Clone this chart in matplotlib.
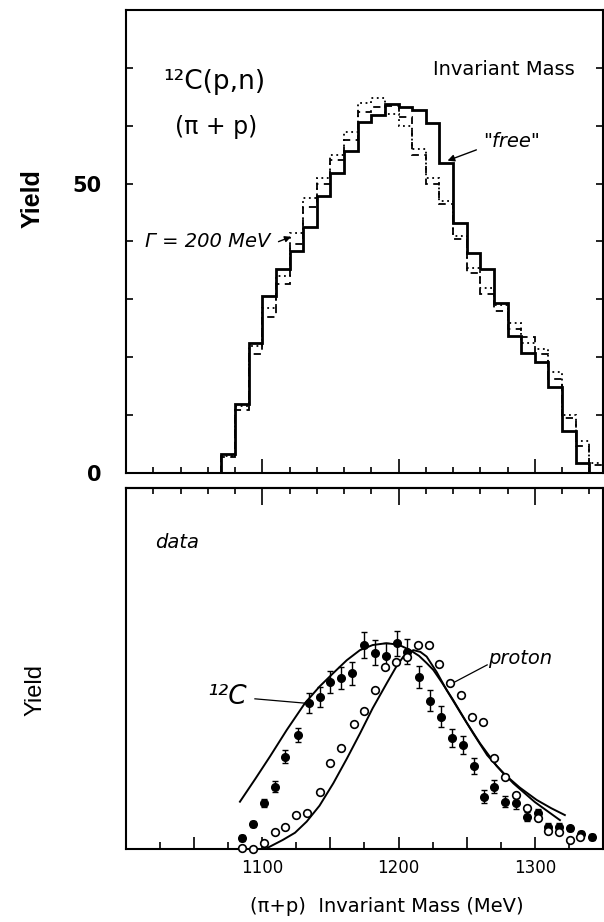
import numpy as np
import matplotlib
matplotlib.use("Agg")
import matplotlib.pyplot as plt
from matplotlib.ticker import MultipleLocator, FuncFormatter

# --- top panel: simulated histograms, 10 MeV bins starting at 1070 MeV ---
bin_start = 1070
bin_width = 10
free_counts = [3.3, 11.9, 22.4, 30.5, 35.2, 38.3, 42.5, 47.8, 51.8, 55.6,
               60.7, 61.9, 63.8, 63.3, 62.8, 60.5, 53.6, 43.2, 38.0, 35.2,
               29.3, 23.6, 20.8, 19.1, 14.8, 7.3, 1.8]
gamma200_counts = [2.8, 10.8, 20.5, 27.0, 32.6, 39.5, 46.0, 50.0, 54.0, 57.6,
                   62.4, 63.3, 63.4, 61.5, 55.0, 50.0, 46.4, 40.5, 34.5, 31.0,
                   28.0, 24.8, 23.5, 20.5, 16.2, 9.5, 4.7, 1.3]
dotted_counts = [3.0, 11.5, 22.0, 28.5, 34.0, 41.5, 47.5, 51.0, 55.0, 59.0,
                 64.0, 64.8, 62.0, 60.0, 56.0, 51.0, 47.0, 41.0, 35.5, 32.0,
                 29.0, 26.0, 22.5, 21.5, 17.5, 10.0, 5.5, 1.8]

# --- bottom panel: data points (arbitrary yield units) ---
c12_mass = [1085, 1093, 1101, 1109, 1117, 1126, 1134, 1142, 1150, 1158,
            1166, 1175, 1183, 1191, 1199, 1206, 1215, 1223, 1231, 1239,
            1247, 1255, 1263, 1270, 1278, 1286, 1294, 1302, 1310, 1318,
            1326, 1334, 1342]
c12_yield = [3.0, 6.9, 12.7, 17.3, 25.6, 31.6, 40.5, 42.2, 46.3, 47.3,
             48.7, 56.5, 54.4, 53.5, 57.0, 54.7, 47.7, 41.1, 36.7, 30.7,
             28.8, 23.0, 14.5, 17.3, 13.1, 12.7, 9.0, 9.9, 6.2, 6.2,
             5.7, 4.2, 3.4]
c12_err = [0.8, 0.8, 1.2, 1.5, 1.8, 2.0, 2.8, 2.8, 3.0, 3.0,
           3.2, 3.5, 3.5, 3.5, 3.5, 3.5, 3.0, 3.0, 2.8, 2.5,
           2.5, 2.2, 1.8, 1.8, 1.5, 1.5, 1.2, 1.2, 1.0, 1.0,
           0.8, 0.8, 0.8]

p_mass = [1085, 1093, 1101, 1109, 1117, 1125, 1133, 1142, 1150, 1158,
          1167, 1175, 1183, 1190, 1198, 1206, 1214, 1222, 1230, 1238,
          1246, 1254, 1262, 1270, 1278, 1286, 1294, 1302, 1310, 1318,
          1326, 1333]
p_yield = [0.2, 0.0, 1.6, 4.8, 6.2, 9.4, 9.9, 15.9, 23.7, 27.9,
           34.5, 38.2, 44.0, 50.5, 51.9, 53.1, 56.5, 56.5, 51.2, 45.9,
           42.7, 36.7, 35.3, 25.1, 19.9, 15.0, 11.3, 8.7, 5.1, 4.6,
           2.5, 3.2]

# --- bottom panel: model curves ---
c12_curve_mass = [1083.6, 1095, 1105.6, 1118, 1131.3, 1142, 1152, 1162, 1171.7, 1181,
                  1191, 1200, 1208.4, 1215, 1220.6, 1225.5, 1232, 1240, 1250, 1259.7,
                  1272, 1284.2, 1300, 1318.4]
c12_curve_yield = [13.1, 19.5, 25.6, 33.0, 40.4, 45.0, 48.7, 52.3, 55.1, 56.5,
                   57.0, 56.6, 55.1, 53.5, 51.5, 49.6, 46.0, 41.3, 35.0, 29.3,
                   23.0, 18.2, 13.0, 8.0]
p_curve_mass = [1103.2, 1115, 1124, 1132.6, 1142, 1152.1, 1162, 1171.7, 1181, 1191.3,
                1198, 1203.5, 1210.8, 1216, 1220.6, 1228, 1235.3, 1245, 1254.8, 1265,
                1276.8, 1289, 1301.3, 1312, 1322]
p_curve_yield = [0.2, 2.5, 4.5, 7.6, 12.0, 18.2, 25.0, 32.0, 39.0, 45.9,
                 50.3, 53.3, 55.1, 54.6, 53.3, 49.0, 44.0, 38.0, 32.0, 26.0,
                 21.0, 17.0, 13.6, 11.3, 9.4]

x_labels = {1100: "1100", 1200: "1200", 1300: "1300"}

fig = plt.figure(figsize=(6.04, 9.22), dpi=100)
ax1 = fig.add_axes([126 / 604, 1 - 473 / 922, 477 / 604, 463 / 922])
ax2 = fig.add_axes([126 / 604, 1 - 849 / 922, 477 / 604, 361 / 922])

for ax in (ax1, ax2):
    for sp in ax.spines.values():
        sp.set_linewidth(1.5)
    ax.set_xlim(1000, 1350)

# ---------- top panel ----------
edges_free = bin_start + bin_width * np.arange(len(free_counts) + 1)
edges_g = bin_start + bin_width * np.arange(len(gamma200_counts) + 1)
edges_d = bin_start + bin_width * np.arange(len(dotted_counts) + 1)
ax1.stairs(dotted_counts, edges_d, color="black", lw=1.3, ls=(0, (1, 2)))
ax1.stairs(gamma200_counts, edges_g, color="black", lw=1.3, ls=(0, (4, 3)))
ax1.stairs(free_counts, edges_free, color="black", lw=2.0)

ax1.set_ylim(0, 80)
ax1.xaxis.set_major_locator(MultipleLocator(100))
ax1.xaxis.set_minor_locator(MultipleLocator(20))
ax1.tick_params(axis="x", which="major", direction="in", length=10, width=1.2,
                labelbottom=False)
ax1.tick_params(axis="x", which="minor", direction="in", length=4, width=1.2)
ax1.set_yticks(np.arange(0, 81, 10))
ax1.set_yticklabels(["0", "", "", "", "", "50", "", "", ""])
ax1.tick_params(axis="y", direction="in", length=5, width=1.2, left=True, right=True,
                pad=18, labelsize=15)
for lab in ax1.get_yticklabels():
    lab.set_fontweight("bold")

ax1.text(1027, 67.5, "¹²C(p,n)", fontsize=19, va="center", ha="left")
ax1.text(1036, 59.8, "(π + p)", fontsize=17, va="center", ha="left")
ax1.text(1329, 69.7, "Invariant Mass", fontsize=14, va="center", ha="right")
ax1.text(1262, 57.2, '"free"', fontsize=14, style="italic", va="center", ha="left")
ax1.annotate("", xy=(1234, 53.8), xytext=(1259, 56.0),
             arrowprops=dict(arrowstyle="-|>", color="black", lw=1.0, mutation_scale=10))
ax1.text(1014, 40.0, "Γ = 200 MeV", fontsize=14, style="italic", va="center", ha="left")
ax1.annotate("", xy=(1123, 41.0), xytext=(1110, 39.8),
             arrowprops=dict(arrowstyle="-|>", color="black", lw=1.0, mutation_scale=9))

# ---------- bottom panel ----------
ax2.set_ylim(0, 100)
ax2.plot(c12_curve_mass, c12_curve_yield, color="black", lw=1.4)
ax2.plot(p_curve_mass, p_curve_yield, color="black", lw=1.4)
ax2.errorbar(c12_mass, c12_yield, yerr=c12_err, fmt="o", ms=5.5, mfc="black",
             mec="black", ecolor="black", elinewidth=1.0, capsize=2.5, zorder=3)
ax2.plot(p_mass, p_yield, "o", ms=5.5, mfc="white", mec="black", mew=1.2, zorder=4,
         clip_on=False)

ax2.set_yticks([])
ax2.xaxis.set_major_locator(MultipleLocator(50))
ax2.xaxis.set_minor_locator(MultipleLocator(25))
ax2.xaxis.set_major_formatter(FuncFormatter(lambda v, p: x_labels.get(int(round(v)), "")))
ax2.tick_params(axis="x", which="major", direction="in", length=9, width=1.2,
                labelsize=12, pad=7)
ax2.tick_params(axis="x", which="minor", direction="in", length=5, width=1.2)

top = ax2.secondary_xaxis("top")
top.xaxis.set_major_locator(MultipleLocator(100))
top.xaxis.set_minor_locator(MultipleLocator(20))
top.tick_params(axis="x", which="major", direction="in", length=12, width=1.2,
                labeltop=False)
top.tick_params(axis="x", which="minor", direction="in", length=4, width=1.2)
top.spines["top"].set_linewidth(1.5)

ax2.text(1021, 84.8, "data", fontsize=14, style="italic", va="center", ha="left")
ax2.text(1265.5, 52.9, "proton", fontsize=14, style="italic", va="center", ha="left")
ax2.plot([1265, 1241.4], [51.0, 46.3], color="black", lw=0.9)
ax2.text(1089, 42.1, "¹²C", fontsize=19, style="italic", va="center", ha="right")
ax2.plot([1094.6, 1131.3], [41.6, 40.4], color="black", lw=0.9)

# ---------- labels ----------
fig.text(33 / 604, 1 - 199 / 922, "Yield", rotation=90, fontsize=18, fontweight="bold",
         family="Liberation Sans", ha="center", va="center")
fig.text(36 / 604, 1 - 690 / 922, "Yield", rotation=90, fontsize=17,
         family="Liberation Sans", ha="center", va="center")
fig.text(387 / 604, 1 - 906 / 922, "(π+p)  Invariant Mass (MeV)", fontsize=14,
         ha="center", va="center")

fig.savefig("out.png", dpi=100)
